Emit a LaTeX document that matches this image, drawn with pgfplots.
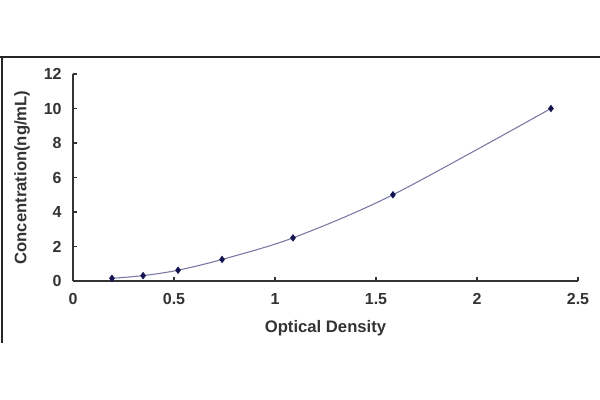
\documentclass[border=0pt]{standalone}
\usepackage{pgfplots}
\pgfplotsset{compat=1.18}
\usepackage{fontspec}
\setmainfont{Liberation Sans}
\begin{document}
\begin{tikzpicture}[x=0.75pt,y=0.75pt]
\path[use as bounding box] (0,0) rectangle (600,400);
\draw[line width=1.5pt,black!85] (0,343) -- (600,343);
\draw[line width=1.5pt,black!85] (2,343) -- (2,57);
\begin{axis}[
  at={(73*0.75pt,119*0.75pt)}, anchor=origin,
  scale only axis, width=378.75pt, height=155.25pt,
  xmin=0, xmax=2.5, ymin=0, ymax=12,
  axis lines=left, axis line style={-, line width=0.9pt, black!80},
  xtick={0,0.5,...,2.5}, ytick={0,2,...,12},
  tick style={line width=0.8pt, black!80}, major tick length=3pt,
  tick align=inside,
  clip=false,
  /pgf/number format/assume math mode=true,
  ticklabel style={font=\bfseries\fontsize{12}{14}\selectfont, text=black!80},
  xticklabel style={yshift=-6pt},
  yticklabel style={xshift=-5pt},
  xlabel={Optical Density}, ylabel={Concentration(ng/mL)},
  label style={font=\bfseries\fontsize{12.5}{14}\selectfont, text=black!80},
  xlabel style={at={(axis description cs:0.5,-0.227)}, anchor=center},
  ylabel style={at={(axis description cs:-0.101,0.5)}, anchor=center},
]
\addplot[smooth, color={rgb,255:red,120;green,120;blue,165}, line width=0.8pt,
  mark=diamond*, mark size=2.2pt, mark options={fill={rgb,255:red,20;green,20;blue,80}, draw={rgb,255:red,20;green,20;blue,80}}]
  coordinates {(0.193,0.156) (0.347,0.312) (0.520,0.625) (0.738,1.25) (1.089,2.5) (1.584,5) (2.366,10)};
\end{axis}
\end{tikzpicture}
\end{document}
